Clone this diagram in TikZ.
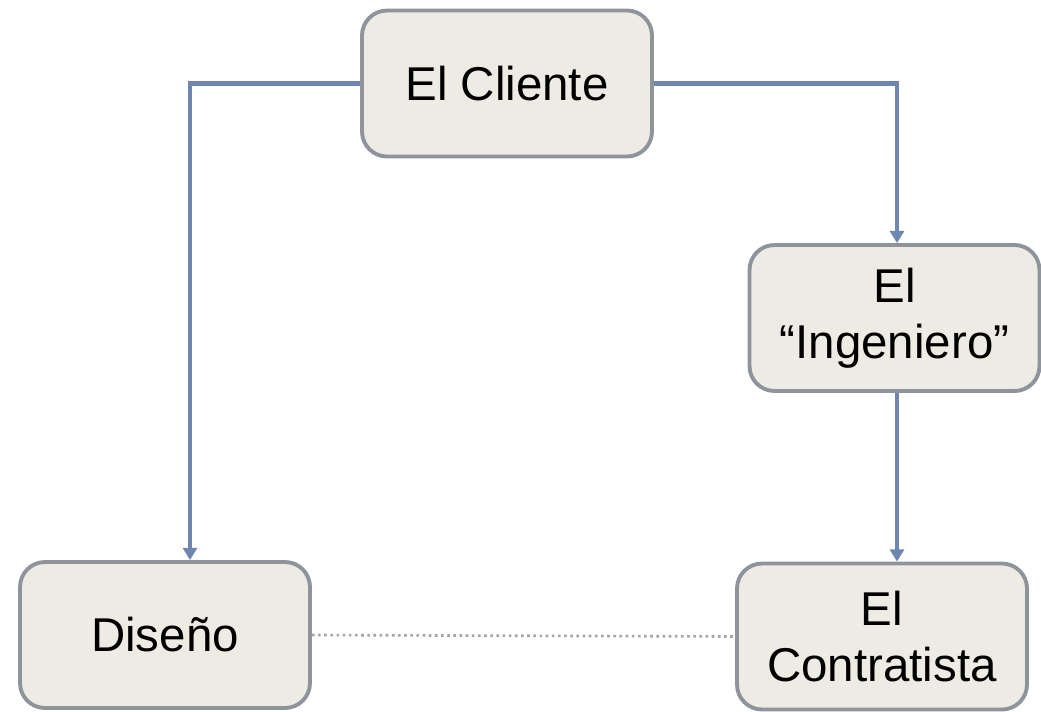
\documentclass[tikz,border=0pt]{standalone}
\usepackage{fontspec}
\setmainfont{Liberation Sans}
\usepackage{tikz}
\usetikzlibrary{arrows.meta}
\definecolor{boxfill}{HTML}{EDEBE3}
\definecolor{boxline}{HTML}{8E939C}
\definecolor{flow}{HTML}{6F86B0}

\begin{document}
\begin{tikzpicture}[
    rol/.style={draw=boxline, line width=2.2pt, fill=boxfill, rounded corners=0.5cm,
        minimum width=5.8cm, minimum height=2.92cm, align=center,
        font=\fontsize{27}{32}\selectfont},
    flecha/.style={draw=flow, line width=2.4pt, -{Triangle[width=8pt, length=7pt]}},
    enlace/.style={draw=gray!70, line width=1.5pt, dotted}
]
\useasboundingbox (0,0) rectangle (20.82,-14.22);
\node[rol] (cli) at (10.14,-1.67) {El Cliente};
\node[rol] (ing) at (17.89,-6.36) {El\\``Ingeniero''};
\node[rol] (con) at (17.64,-12.73) {El\\Contratista};
\node[rol] (dis) at (3.30,-12.70) {Diseño};
\draw[flecha] (cli.west) -| ([xshift=0.5cm]dis.north);
\draw[flecha] (cli.east) -| ([xshift=0.05cm]ing.north);
\draw[flecha] ([xshift=0.05cm]ing.south) -- ([xshift=0.05cm]ing.south |- con.north);
\draw[enlace] (dis.east) -- (con.west);
\end{tikzpicture}
\end{document}
